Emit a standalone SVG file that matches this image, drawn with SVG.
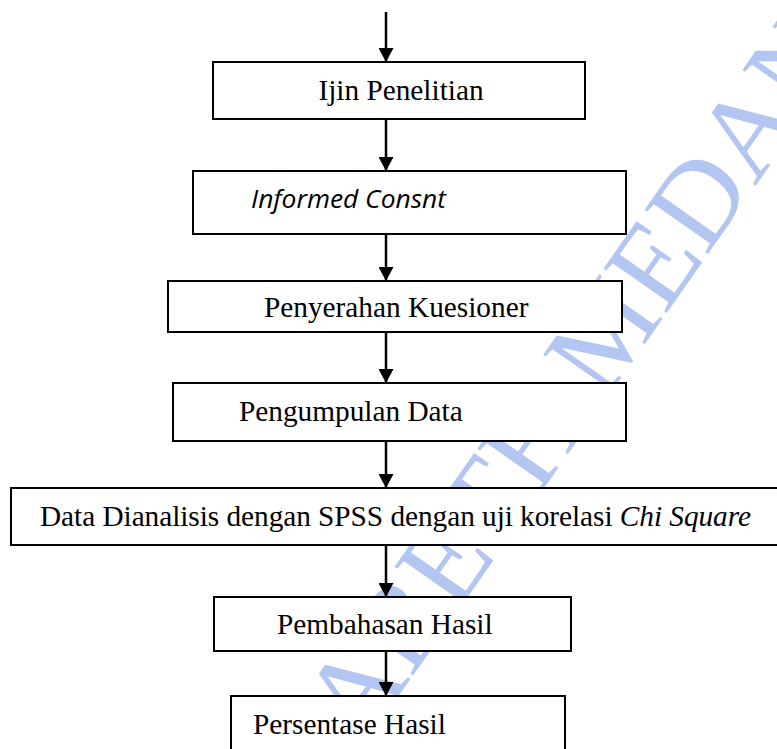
<svg xmlns="http://www.w3.org/2000/svg" width="777" height="749" viewBox="0 0 777 749">
  <style>
    .box { fill: #ffffff; stroke: #000000; stroke-width: 2; }
    .lbl { font-family: "Liberation Serif", "Times New Roman", serif; font-size: 29.3px; fill: #000000; }
    .ital { font-style: italic; }
    .sans { font-family: "Open Sans", "Liberation Sans", sans-serif; font-style: italic; font-size: 25px; fill: #000000; }
    .flow { stroke: #000000; stroke-width: 2.5; fill: none; marker-end: url(#head); }
    .wm { font-family: "Liberation Serif", "Times New Roman", serif; font-size: 118px; fill: #b3c6f1; }
  </style>
  <defs>
    <marker id="head" markerWidth="14" markerHeight="15" refX="14" refY="7.5" orient="auto" markerUnits="userSpaceOnUse">
      <path d="M0,0 L14,7.5 L0,15 Z" fill="#000000"/>
    </marker>
  </defs>

  <rect width="777" height="749" fill="#ffffff"/>

  <!-- watermark, drawn under the boxes -->
  <text class="wm" transform="translate(362,748) rotate(-55)">ABETH MEDAN</text>

  <!-- connectors -->
  <g id="connectors">
    <line class="flow" x1="386" y1="12" x2="386" y2="62"/>
    <line class="flow" x1="386" y1="119" x2="386" y2="171"/>
    <line class="flow" x1="386" y1="230" x2="386" y2="281"/>
    <line class="flow" x1="386" y1="328" x2="386" y2="383"/>
    <line class="flow" x1="386" y1="437" x2="386" y2="488"/>
    <line class="flow" x1="386" y1="541" x2="386" y2="597"/>
    <line class="flow" x1="386" y1="649" x2="386" y2="696"/>
  </g>

  <g id="n1">
    <rect class="box" x="213" y="62" width="372" height="57"/>
    <text class="lbl" x="401" y="100" text-anchor="middle">Ijin Penelitian</text>
  </g>
  <g id="n2">
    <rect class="box" x="193" y="171" width="433" height="63"/>
    <text class="sans" x="251" y="208" textLength="195" lengthAdjust="spacingAndGlyphs">Informed Consnt</text>
  </g>
  <g id="n3">
    <rect class="box" x="168" y="281" width="454" height="51"/>
    <text class="lbl" x="264" y="317">Penyerahan Kuesioner</text>
  </g>
  <g id="n4">
    <rect class="box" x="173" y="383" width="453" height="58"/>
    <text class="lbl" x="239" y="421">Pengumpulan Data</text>
  </g>
  <g id="n5">
    <rect class="box" x="11" y="488" width="780" height="57"/>
    <text class="lbl" x="40" y="526" textLength="711">Data Dianalisis dengan SPSS dengan uji korelasi <tspan class="ital">Chi Square</tspan></text>
  </g>
  <g id="n6">
    <rect class="box" x="214" y="597" width="357" height="54"/>
    <text class="lbl" x="277" y="634">Pembahasan Hasil</text>
  </g>
  <g id="n7">
    <rect class="box" x="231" y="696" width="334" height="70"/>
    <text class="lbl" x="253" y="734">Persentase Hasil</text>
  </g>
</svg>
